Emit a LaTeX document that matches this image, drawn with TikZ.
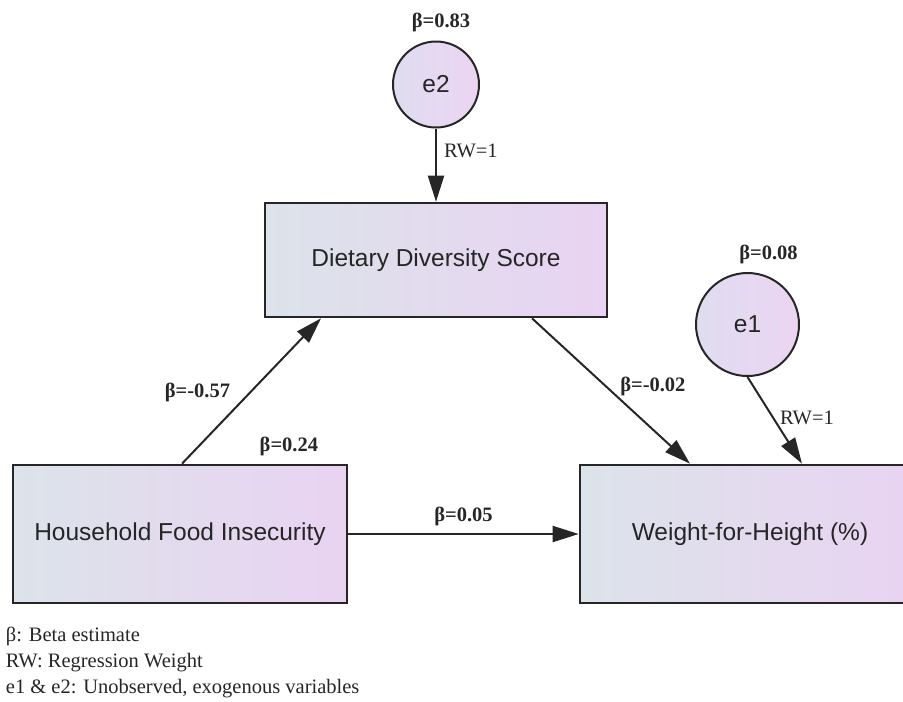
\documentclass[tikz,border=0pt]{standalone}
\usepackage{fontspec}
\setmainfont{Liberation Serif}
\setsansfont{Liberation Sans}
\usetikzlibrary{arrows.meta, positioning}
\definecolor{shadeleft}{HTML}{DCE3EA}
\definecolor{shaderight}{HTML}{E9D3F2}
\definecolor{circleleft}{HTML}{DFDDF0}
\definecolor{circleright}{HTML}{ECD5F2}
\definecolor{inkgray}{HTML}{262626}

\begin{document}
\begin{tikzpicture}[
        x=1pt, y=-1pt,
        obsbox/.style={draw=inkgray, line width=2.6pt, left color=shadeleft, right color=shaderight,
            font=\sffamily\fontsize{24.5}{28}\selectfont, text=inkgray, inner sep=0pt},
        errorterm/.style={circle, draw=inkgray, line width=2pt, left color=circleleft, right color=circleright,
            font=\sffamily\fontsize{24.5}{28}\selectfont, text=inkgray, inner sep=0pt},
        pathway/.style={-{Triangle[length=26pt, width=16pt]}, line width=2pt, draw=inkgray},
        betalabel/.style={font=\bfseries\fontsize{20.5}{24}\selectfont, text=inkgray, inner sep=1pt},
        weightlabel/.style={font=\fontsize{20.5}{24}\selectfont, text=inkgray, inner sep=1pt},
        keytext/.style={font=\fontsize{20.5}{26}\selectfont, text=inkgray, align=left, inner sep=0pt}
    ]
        \clip (0,0) rectangle (903,702);

        % Observed variables
        \node[obsbox, minimum width=342pt, minimum height=114pt] (dds) at (436,260) {Dietary Diversity Score};
        \node[obsbox, minimum width=334pt, minimum height=138pt] (hfi) at (180,534) {Household Food Insecurity};
        \node[obsbox, minimum width=340pt, minimum height=138pt] (wfh) at (750,534) {Weight-for-Height (\%)};

        % Error terms
        \node[errorterm, minimum size=86pt] (e2) at (436,84.5) {e2};
        \node[errorterm, minimum size=103pt] (e1) at (747.5,324.5) {e1};

        \node[betalabel, above=7pt of e2, xshift=5pt] (b2) {β=0.83};
        \node[betalabel, above=7pt of e1, xshift=21pt] (b1) {β=0.08};
        \node[betalabel, above left=7pt and 29pt of hfi.north east] (bhfi) {β=0.24};

        % Paths
        \draw[pathway] (e2) -- (dds) node[weightlabel, pos=0.3, right=6pt] (rw2) {RW=1};
        \draw[pathway] ([xshift=2pt]hfi.north) -- ([xshift=-115pt]dds.south)
            node[betalabel, pos=0.49, left=18pt] (bhd) {β=-0.57};
        \draw[pathway] ([xshift=96pt]dds.south) -- ([xshift=-60pt]wfh.north)
            node[betalabel, pos=0.47, right=12pt] (bdw) {β=-0.02};
        \draw[pathway] (e1.south) -- ([xshift=52pt]wfh.north) node[weightlabel, pos=0.47, right=5pt] (rw1) {RW=1};
        \draw[pathway] (hfi.east) -- (wfh.west) node[betalabel, midway, above=6pt] (bhw) {β=0.05};

        % Key
        \node[keytext, anchor=north west] (key) at ([xshift=-6pt, yshift=-23pt]hfi.south west)
            {β: Beta estimate\\RW: Regression Weight\\e1 \& e2: Unobserved, exogenous variables};
    \end{tikzpicture}
\end{document}
